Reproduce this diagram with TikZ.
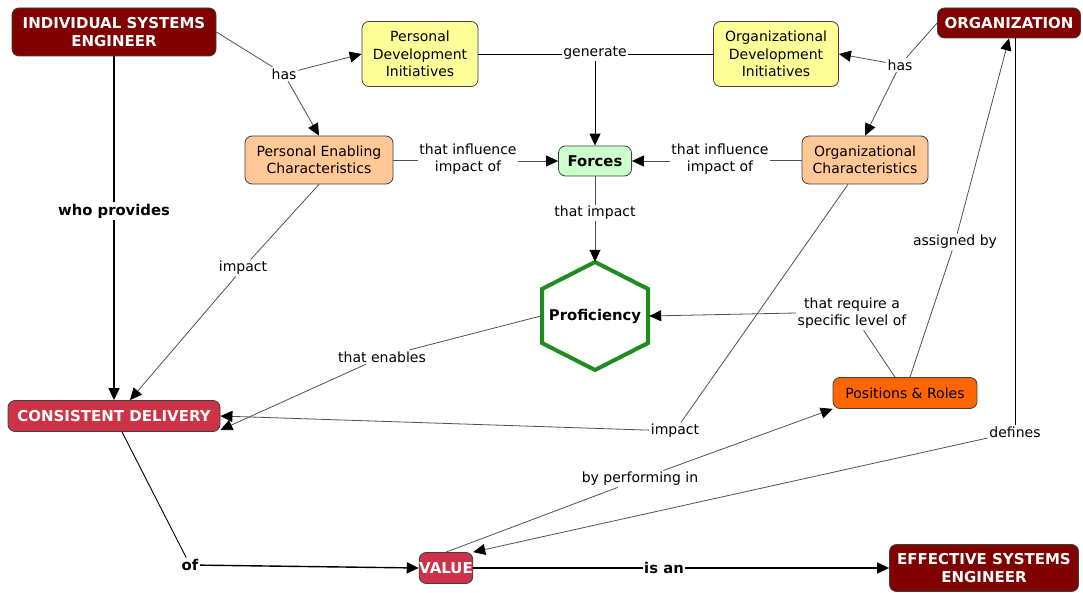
\documentclass[tikz,border=0pt]{standalone}
\usepackage{fontspec}
\setmainfont{DejaVu Sans}
\usetikzlibrary{arrows.meta}
\definecolor{maroonc}{RGB}{128,0,0}
\definecolor{crimc}{RGB}{204,51,68}
\definecolor{yelc}{RGB}{255,255,153}
\definecolor{peachc}{RGB}{255,200,150}
\definecolor{greenc}{RGB}{204,255,204}
\definecolor{orangec}{RGB}{255,102,0}
\definecolor{hexc}{RGB}{30,140,30}
\definecolor{linec}{RGB}{80,80,80}
\tikzset{
  concept/.style={draw=black!75, line width=0.8pt, rounded corners=7pt, align=center, inner sep=0pt, font=\fontsize{14}{17.5}\selectfont},
  darkc/.style={concept, fill=maroonc, text=white, font=\fontsize{15}{17.5}\selectfont\bfseries},
  redc/.style={concept, fill=crimc, text=white, font=\fontsize{15}{17.5}\selectfont\bfseries},
  lbl/.style={fill=white, inner sep=1.5pt, align=center, font=\fontsize{14}{17.5}\selectfont},
  blbl/.style={lbl, font=\fontsize{14.8}{17.5}\selectfont\bfseries},
  ln/.style={draw=linec, line width=0.8pt},
  tln/.style={draw=black, line width=0.9pt},
  bln/.style={draw=black, line width=1.4pt},
  arr/.style={-{Triangle[length=12pt,width=11pt,color=black]}},
}
\begin{document}
\begin{tikzpicture}[x=1pt,y=-1pt]
\useasboundingbox (0,0) rectangle (1083,593);
% concepts
\node[darkc, minimum width=204pt, minimum height=48pt] (ise) at (114,32) {INDIVIDUAL SYSTEMS\\ENGINEER};
\node[concept, fill=yelc, minimum width=116pt, minimum height=65pt] (pdi) at (420,54) {Personal\\Development\\Initiatives};
\node[concept, fill=yelc, minimum width=125pt, minimum height=65pt] (odi) at (776,54) {Organizational\\Development\\Initiatives};
\node[darkc, minimum width=143pt, minimum height=30pt] (org) at (1009,23) {ORGANIZATION};
\node[concept, fill=peachc, minimum width=148pt, minimum height=48pt] (pec) at (319,160) {Personal Enabling\\Characteristics};
\node[concept, fill=greenc, minimum width=73pt, minimum height=30pt, font=\fontsize{14.8}{17.5}\selectfont\bfseries] (forces) at (595,161) {Forces};
\node[concept, fill=peachc, minimum width=126pt, minimum height=48pt] (oc) at (865,160) {Organizational\\Characteristics};
\node[inner sep=0pt, minimum width=108pt, minimum height=108pt, font=\fontsize{14.8}{17.5}\selectfont\bfseries] (prof) at (595,316) {Proficiency};
\draw[hexc, line width=4pt, line join=miter] (595,262) -- (648,289) -- (648,343) -- (595,370) -- (542,343) -- (542,289) -- cycle;
\node[redc, minimum width=212pt, minimum height=31pt] (cd) at (114,416) {CONSISTENT DELIVERY};
\node[concept, fill=orangec, minimum width=144pt, minimum height=31pt] (pr) at (905,393) {Positions \& Roles};
\node[redc, minimum width=51pt, minimum height=31pt] (val) at (446,568) {VALUE};
\node[darkc, minimum width=189pt, minimum height=47pt] (ese) at (984,568) {EFFECTIVE SYSTEMS\\ENGINEER};
% labels
\node[lbl] (has1) at (284,74) {has};
\node[lbl] (gen) at (595,53) {generate};
\node[lbl] (has2) at (900,65) {has};
\node[lbl] (tii1) at (468,159) {that influence\\impact of};
\node[lbl] (tii2) at (720,159) {that influence\\impact of};
\node[lbl] (ti) at (595,213) {that impact};
\node[blbl] (who) at (114,211) {who provides};
\node[lbl] (imp1) at (243,268) {impact};
\node[lbl] (ten) at (382,357) {that enables};
\node[lbl] (treq) at (852,313) {that require a\\specific level of};
\node[lbl] (asg) at (955,242) {assigned by};
\node[lbl] (imp2) at (675,431) {impact};
\node[lbl] (def) at (1015,432) {defines};
\node[lbl] (bpi) at (640,479) {by performing in};
\node[blbl] (of) at (190,565) {of};
\node[blbl] (isan) at (664,568) {is an};
% connectors
\draw[ln] (ise.east) -- (has1);
\draw[ln, arr] (has1) -- (pdi.west);
\draw[ln, arr] (has1) -- (pec.north);
\draw[tln] (pdi.east) -- (gen.west |- pdi.east);
\draw[tln] (odi.west) -- (gen.east |- odi.west);
\draw[tln, arr] (gen) -- (forces.north);
\draw[ln] (org.west) -- (has2);
\draw[ln, arr] (has2) -- (odi.east);
\draw[ln, arr] (has2) -- (oc.north);
\draw[ln] (pec.east) -- (tii1.west |- pec.east);
\draw[ln, arr] (tii1.east |- forces.west) -- (forces.west);
\draw[ln] (oc.west) -- (tii2.east |- oc.west);
\draw[ln, arr] (tii2.west |- forces.east) -- (forces.east);
\draw[ln] (forces.south) -- (ti);
\draw[ln, arr] (ti) -- (prof.north);
\draw[bln] (ise.south) -- (who);
\draw[bln, arr] (who) -- (cd.north);
\draw[ln] (pec.south) -- (imp1);
\draw[ln, arr] (imp1) -- ([xshift=16pt]cd.north);
\draw[ln] (prof.west) -- (ten);
\draw[ln, arr] (ten) -- ([yshift=-14pt]cd.east);
\draw[ln] ([xshift=-10pt]pr.north) -- (treq);
\draw[ln, arr] (treq.west) -- (prof.east);
\draw[ln] ([xshift=5pt]pr.north) -- (asg);
\draw[ln, arr] (asg) -- (org.south);
\draw[ln] ([xshift=-17pt]oc.south) -- (imp2);
\draw[ln, arr] (imp2) -- (cd.east);
\draw[tln] (def |- org.south) -- (def);
\draw[ln, arr] (def) -- (val.north east);
\draw[ln] (val.north) -- (bpi);
\draw[ln, arr] (bpi) -- (pr.south west);
\draw[tln] ([xshift=8pt]cd.south) -- (of);
\draw[bln, arr] (of) -- (val.west);
\draw[bln] (val.east) -- (isan);
\draw[bln, arr] (isan) -- (ese.west);
\end{tikzpicture}
\end{document}
